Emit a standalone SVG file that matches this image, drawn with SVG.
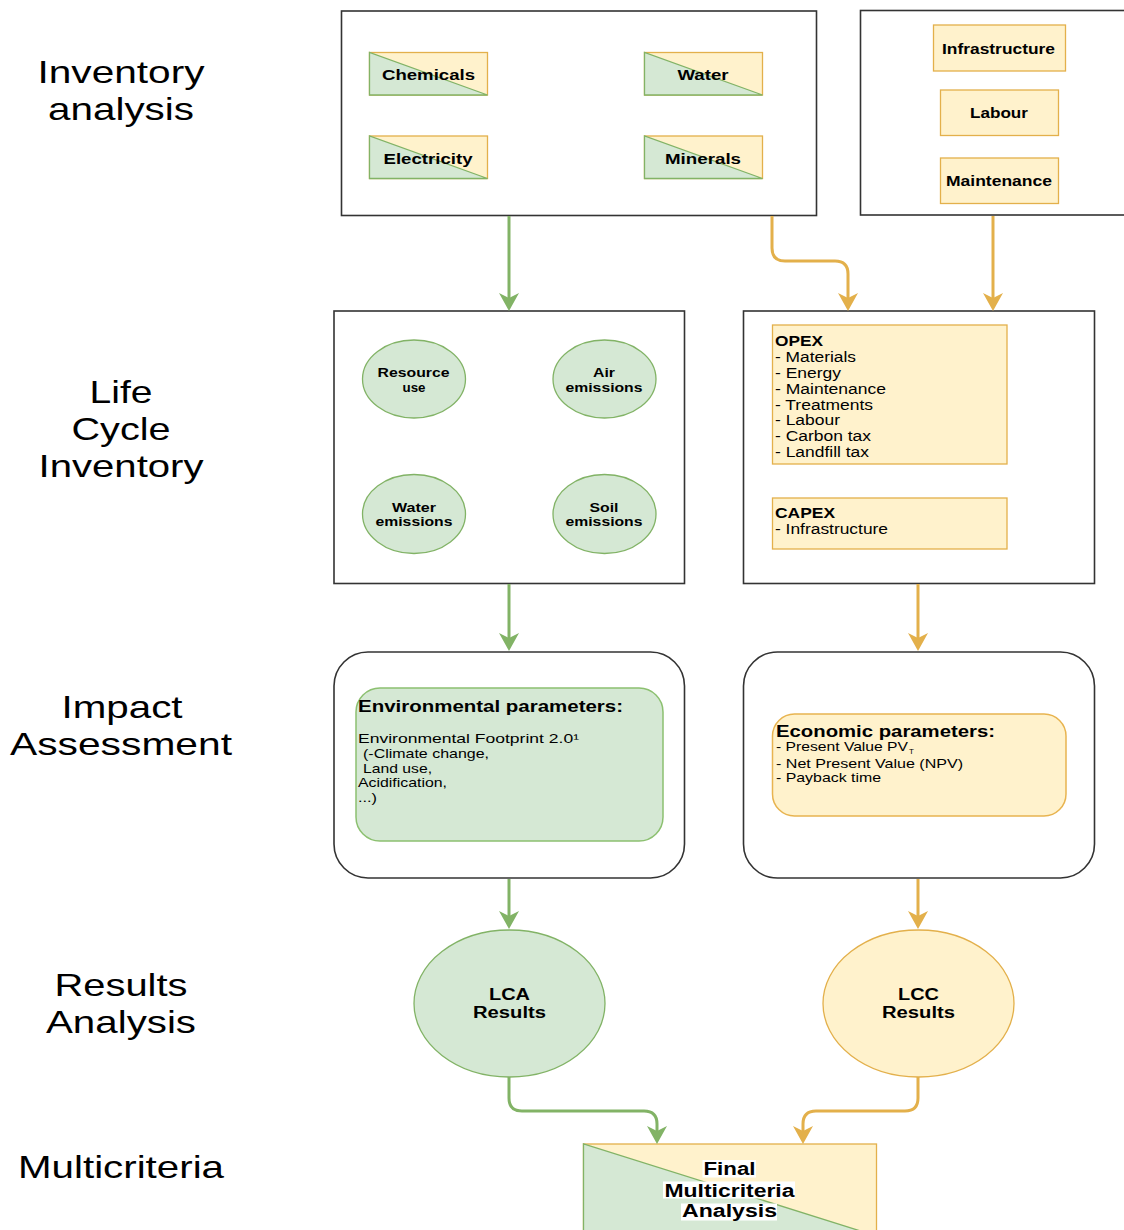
<svg xmlns="http://www.w3.org/2000/svg" width="1124" height="1230" viewBox="0 0 1124 1230">
<style>
text{font-family:"Liberation Sans",Arial,sans-serif;fill:#000}
.stage{font-size:32px}
.b{font-weight:bold}
.frame{fill:#fff;stroke:#333;stroke-width:1.6}
.ylw{fill:#fff2cc;stroke:#e3b04b;stroke-width:1.3}
.grn{fill:#d5e8d4;stroke:#82b366;stroke-width:1.3}
.cg{fill:none;stroke:#82b366;stroke-width:3}
.cy{fill:none;stroke:#e3b04b;stroke-width:3}
</style>
<defs>
<marker id="ag" markerUnits="userSpaceOnUse" viewBox="0 0 18 20" markerWidth="18" markerHeight="20" refX="10" refY="10" orient="auto"><path d="M0,0 L18,10 L0,20 L5,10 Z" fill="#82b366"/></marker>
<marker id="ay" markerUnits="userSpaceOnUse" viewBox="0 0 18 20" markerWidth="18" markerHeight="20" refX="10" refY="10" orient="auto"><path d="M0,0 L18,10 L0,20 L5,10 Z" fill="#e3b04b"/></marker>
</defs>
<rect width="1124" height="1230" fill="#fff"/>

<g id="stage-labels">
<text class="stage" x="121" y="83" text-anchor="middle" textLength="167" lengthAdjust="spacingAndGlyphs">Inventory</text>
<text class="stage" x="121" y="120" text-anchor="middle" textLength="146" lengthAdjust="spacingAndGlyphs">analysis</text>
<text class="stage" x="121" y="403" text-anchor="middle" textLength="63" lengthAdjust="spacingAndGlyphs">Life</text>
<text class="stage" x="121" y="440" text-anchor="middle" textLength="99" lengthAdjust="spacingAndGlyphs">Cycle</text>
<text class="stage" x="121" y="477" text-anchor="middle" textLength="165" lengthAdjust="spacingAndGlyphs">Inventory</text>
<text class="stage" x="122" y="718" text-anchor="middle" textLength="121" lengthAdjust="spacingAndGlyphs">Impact</text>
<text class="stage" x="121" y="755" text-anchor="middle" textLength="222" lengthAdjust="spacingAndGlyphs">Assessment</text>
<text class="stage" x="121" y="996" text-anchor="middle" textLength="133" lengthAdjust="spacingAndGlyphs">Results</text>
<text class="stage" x="121" y="1033" text-anchor="middle" textLength="150" lengthAdjust="spacingAndGlyphs">Analysis</text>
<text class="stage" x="121" y="1178" text-anchor="middle" textLength="206" lengthAdjust="spacingAndGlyphs">Multicriteria</text>
</g>

<g id="env-inputs">
<rect class="frame" x="341.5" y="11" width="475" height="204.5"/>
</g>
<g id="chemicals">
<rect class="ylw" x="369.5" y="52.5" width="118" height="42.5"/>
<polygon class="grn" points="369.5,52.5 369.5,95 487.5,95"/>
<text class="b" x="428.5" y="80" font-size="15" text-anchor="middle" textLength="93" lengthAdjust="spacingAndGlyphs">Chemicals</text>
</g>
<g id="water">
<rect class="ylw" x="644.5" y="52.5" width="118" height="42.5"/>
<polygon class="grn" points="644.5,52.5 644.5,95 762.5,95"/>
<text class="b" x="703" y="80" font-size="15" text-anchor="middle" textLength="51" lengthAdjust="spacingAndGlyphs">Water</text>
</g>
<g id="electricity">
<rect class="ylw" x="369.5" y="136" width="118" height="42.5"/>
<polygon class="grn" points="369.5,136 369.5,178.5 487.5,178.5"/>
<text class="b" x="428" y="164" font-size="15" text-anchor="middle" textLength="89" lengthAdjust="spacingAndGlyphs">Electricity</text>
</g>
<g id="minerals">
<rect class="ylw" x="644.5" y="136" width="118" height="42.5"/>
<polygon class="grn" points="644.5,136 644.5,178.5 762.5,178.5"/>
<text class="b" x="703" y="164" font-size="15" text-anchor="middle" textLength="76" lengthAdjust="spacingAndGlyphs">Minerals</text>
</g>

<g id="eco-inputs">
<rect class="frame" x="860.5" y="10.5" width="280" height="204.5"/>
</g>
<g id="infrastructure">
<rect class="ylw" x="933.5" y="25" width="132" height="46"/>
<text class="b" x="998.5" y="53.5" font-size="15" text-anchor="middle" textLength="113" lengthAdjust="spacingAndGlyphs">Infrastructure</text>
</g>
<g id="labour">
<rect class="ylw" x="940.5" y="90" width="118" height="45.5"/>
<text class="b" x="999" y="118" font-size="15" text-anchor="middle" textLength="58" lengthAdjust="spacingAndGlyphs">Labour</text>
</g>
<g id="maintenance">
<rect class="ylw" x="940.5" y="158" width="118" height="45.5"/>
<text class="b" x="999" y="186" font-size="15" text-anchor="middle" textLength="106" lengthAdjust="spacingAndGlyphs">Maintenance</text>
</g>

<g id="lci-env">
<rect class="frame" x="334" y="311" width="350.5" height="272.5"/>
</g>
<g id="resource-use">
<ellipse class="grn" cx="414" cy="379" rx="51.5" ry="39"/>
<text class="b" x="413.5" y="377" font-size="13" text-anchor="middle" textLength="72" lengthAdjust="spacingAndGlyphs">Resource</text>
<text class="b" x="414" y="391.5" font-size="13" text-anchor="middle" textLength="23" lengthAdjust="spacingAndGlyphs">use</text>
</g>
<g id="air-emissions">
<ellipse class="grn" cx="604.5" cy="379" rx="51.5" ry="39"/>
<text class="b" x="604" y="377" font-size="13" text-anchor="middle" textLength="22" lengthAdjust="spacingAndGlyphs">Air</text>
<text class="b" x="604" y="391.5" font-size="13" text-anchor="middle" textLength="77" lengthAdjust="spacingAndGlyphs">emissions</text>
</g>
<g id="water-emissions">
<ellipse class="grn" cx="414" cy="514" rx="51.5" ry="39.5"/>
<text class="b" x="414" y="511.5" font-size="13" text-anchor="middle" textLength="44" lengthAdjust="spacingAndGlyphs">Water</text>
<text class="b" x="414" y="526" font-size="13" text-anchor="middle" textLength="77" lengthAdjust="spacingAndGlyphs">emissions</text>
</g>
<g id="soil-emissions">
<ellipse class="grn" cx="604.5" cy="514" rx="51.5" ry="39.5"/>
<text class="b" x="604" y="511.5" font-size="13" text-anchor="middle" textLength="29" lengthAdjust="spacingAndGlyphs">Soil</text>
<text class="b" x="604" y="526" font-size="13" text-anchor="middle" textLength="77" lengthAdjust="spacingAndGlyphs">emissions</text>
</g>

<g id="lci-eco">
<rect class="frame" x="743.5" y="311" width="351" height="272.5"/>
</g>
<g id="opex">
<rect class="ylw" x="772.5" y="325" width="234.5" height="139"/>
<text class="b" x="775" y="346" font-size="14" textLength="48" lengthAdjust="spacingAndGlyphs">OPEX</text>
<text x="775" y="362" font-size="14" textLength="81" lengthAdjust="spacingAndGlyphs">- Materials</text>
<text x="775" y="377.5" font-size="14" textLength="66" lengthAdjust="spacingAndGlyphs">- Energy</text>
<text x="775" y="393.5" font-size="14" textLength="111" lengthAdjust="spacingAndGlyphs">- Maintenance</text>
<text x="775" y="409.5" font-size="14" textLength="98" lengthAdjust="spacingAndGlyphs">- Treatments</text>
<text x="775" y="425" font-size="14" textLength="65" lengthAdjust="spacingAndGlyphs">- Labour</text>
<text x="775" y="441" font-size="14" textLength="96" lengthAdjust="spacingAndGlyphs">- Carbon tax</text>
<text x="775" y="457" font-size="14" textLength="94" lengthAdjust="spacingAndGlyphs">- Landfill tax</text>
</g>
<g id="capex">
<rect class="ylw" x="772.5" y="498" width="234.5" height="51"/>
<text class="b" x="775" y="518" font-size="14" textLength="60" lengthAdjust="spacingAndGlyphs">CAPEX</text>
<text x="775" y="534" font-size="14" textLength="113" lengthAdjust="spacingAndGlyphs">- Infrastructure</text>
</g>

<g id="impact-env">
<rect class="frame" x="334" y="652" width="350.5" height="226" rx="34"/>
<rect x="356" y="688" width="307" height="153" rx="24" fill="#d5e8d4" stroke="#8cc070" stroke-width="1.5"/>
<text class="b" x="358" y="712" font-size="17" textLength="265" lengthAdjust="spacingAndGlyphs">Environmental parameters:</text>
<text x="358" y="743" font-size="13" textLength="221" lengthAdjust="spacingAndGlyphs">Environmental Footprint 2.0¹</text>
<text x="363" y="758" font-size="13" textLength="126" lengthAdjust="spacingAndGlyphs">(-Climate change,</text>
<text x="363" y="772.5" font-size="13" textLength="69" lengthAdjust="spacingAndGlyphs">Land use,</text>
<text x="358" y="787" font-size="13" textLength="89" lengthAdjust="spacingAndGlyphs">Acidification,</text>
<text x="358" y="801.5" font-size="13" textLength="19" lengthAdjust="spacingAndGlyphs">...)</text>
</g>

<g id="impact-eco">
<rect class="frame" x="743.5" y="652" width="351" height="226" rx="34"/>
<rect x="772.5" y="714" width="293.5" height="102" rx="22" fill="#fff2cc" stroke="#e8b450" stroke-width="1.5"/>
<text class="b" x="776" y="736.5" font-size="17" textLength="219" lengthAdjust="spacingAndGlyphs">Economic parameters:</text>
<text x="776" y="751" font-size="13" textLength="132" lengthAdjust="spacingAndGlyphs">- Present Value PV</text>
<text x="909" y="754" font-size="8">T</text>
<text x="776" y="767.5" font-size="13" textLength="187" lengthAdjust="spacingAndGlyphs">- Net Present Value (NPV)</text>
<text x="776" y="782" font-size="13" textLength="105" lengthAdjust="spacingAndGlyphs">- Payback time</text>
</g>

<g id="lca-results">
<ellipse class="grn" cx="509.5" cy="1003.5" rx="95.5" ry="73.5"/>
<text class="b" x="509.5" y="1000" font-size="16" text-anchor="middle" textLength="41" lengthAdjust="spacingAndGlyphs">LCA</text>
<text class="b" x="509.5" y="1018" font-size="16" text-anchor="middle" textLength="73" lengthAdjust="spacingAndGlyphs">Results</text>
</g>
<g id="lcc-results">
<ellipse class="ylw" cx="918.5" cy="1003.5" rx="95.5" ry="73.5"/>
<text class="b" x="918.5" y="1000" font-size="16" text-anchor="middle" textLength="41" lengthAdjust="spacingAndGlyphs">LCC</text>
<text class="b" x="918.5" y="1018" font-size="16" text-anchor="middle" textLength="73" lengthAdjust="spacingAndGlyphs">Results</text>
</g>

<g id="final-mca">
<rect class="ylw" x="583.5" y="1144" width="293" height="92"/>
<polygon class="grn" points="583.5,1144 583.5,1236 876.5,1236"/>
<rect x="702.5" y="1160" width="53.5" height="17.5" fill="#fff"/>
<rect x="663" y="1181.5" width="132" height="17" fill="#fff"/>
<rect x="681" y="1203.5" width="96" height="17" fill="#fff"/>
<text class="b" x="729.5" y="1175" font-size="18" text-anchor="middle" textLength="52" lengthAdjust="spacingAndGlyphs">Final</text>
<text class="b" x="729.5" y="1196.5" font-size="18" text-anchor="middle" textLength="130" lengthAdjust="spacingAndGlyphs">Multicriteria</text>
<text class="b" x="729.5" y="1216.5" font-size="18" text-anchor="middle" textLength="95" lengthAdjust="spacingAndGlyphs">Analysis</text>
</g>

<g id="connectors">
<path class="cg" d="M509,216 V303" marker-end="url(#ag)"/>
<path class="cy" d="M772,216 V248 Q772,261 785,261 H835 Q848,261 848,274 V303" marker-end="url(#ay)"/>
<path class="cy" d="M993,216 V303" marker-end="url(#ay)"/>
<path class="cg" d="M509,584 V643" marker-end="url(#ag)"/>
<path class="cy" d="M918,584 V643" marker-end="url(#ay)"/>
<path class="cg" d="M509,879 V921" marker-end="url(#ag)"/>
<path class="cy" d="M918,879 V921" marker-end="url(#ay)"/>
<path class="cg" d="M509,1077 V1098 Q509,1111 522,1111 H644 Q657,1111 657,1124 V1136" marker-end="url(#ag)"/>
<path class="cy" d="M918,1077 V1098 Q918,1111 905,1111 H816 Q803,1111 803,1124 V1136" marker-end="url(#ay)"/>
</g>
</svg>
